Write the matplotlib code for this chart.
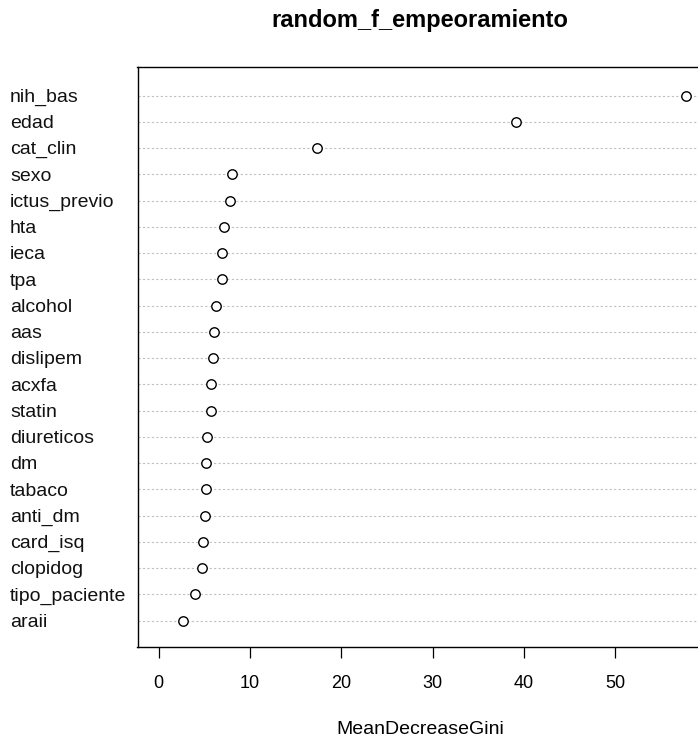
import numpy as np
import matplotlib
matplotlib.use("Agg")
import matplotlib.pyplot as plt
import matplotlib.transforms as mtransforms

plt.rcParams["font.family"] = ["Liberation Sans", "DejaVu Sans"]

# variable importance, top to bottom as drawn
features = ["nih_bas", "edad", "cat_clin", "sexo", "ictus_previo", "hta", "ieca",
            "tpa", "alcohol", "aas", "dislipem", "acxfa", "statin", "diureticos",
            "dm", "tabaco", "anti_dm", "card_isq", "clopidog", "tipo_paciente", "araii"]
gini = [57.8, 39.1, 17.3, 8.0, 7.86, 7.18, 6.96,
        6.92, 6.27, 6.11, 5.97, 5.77, 5.73, 5.32,
        5.22, 5.18, 5.08, 4.82, 4.78, 3.97, 2.66]
xticks = [0, 10, 20, 30, 40, 50]

W, H = 698, 740
fig = plt.figure(figsize=(W / 100, H / 100), dpi=100)

# R dotchart region, right side runs past the image edge
left, right, top, bottom = 137.5, 707.5, 67.3, 647.3
ax = fig.add_axes([left / W, 1 - bottom / H, (right - left) / W, (bottom - top) / H])

n = len(features)
ypos = np.arange(n, 0, -1)

for y in ypos:
    ax.axhline(y, color="#c0c0c0", linewidth=0.8, linestyle=(0, (2, 2)), zorder=1)

ax.plot(gini, ypos, linestyle="none", marker="o", markersize=6.8,
        markerfacecolor="white", markeredgecolor="black", markeredgewidth=1.0, zorder=3)

xmax = max(gini)
ax.set_xlim(-0.04 * xmax, 1.04 * xmax)
ax.set_ylim(1 - 1.02, n + 1.077)

ax.set_xticks(xticks)
ax.set_xticklabels([str(t) for t in xticks], fontsize=13)
ax.tick_params(axis="x", direction="out", length=8, width=0.9, pad=12, colors="black")
ax.set_yticks([])
for s in ax.spines.values():
    s.set_linewidth(1.0)
    s.set_color("black")

# row labels, left aligned near the figure edge (R centres them a bit lower)
trans = mtransforms.blended_transform_factory(fig.transFigure, ax.transData)
for name, y in zip(features, ypos):
    ax.text(10 / W, y - 0.07, name, transform=trans, ha="left", va="center",
            fontsize=14, color="#111111", clip_on=False)

fig.text(420 / W, 1 - 20 / H, "random_f_empeoramiento", ha="center", va="center",
         fontsize=17, fontweight="bold")
fig.text(420 / W, 1 - 730 / H, "MeanDecreaseGini", ha="center", va="center",
         fontsize=14)

fig.savefig("out.png", dpi=100)
